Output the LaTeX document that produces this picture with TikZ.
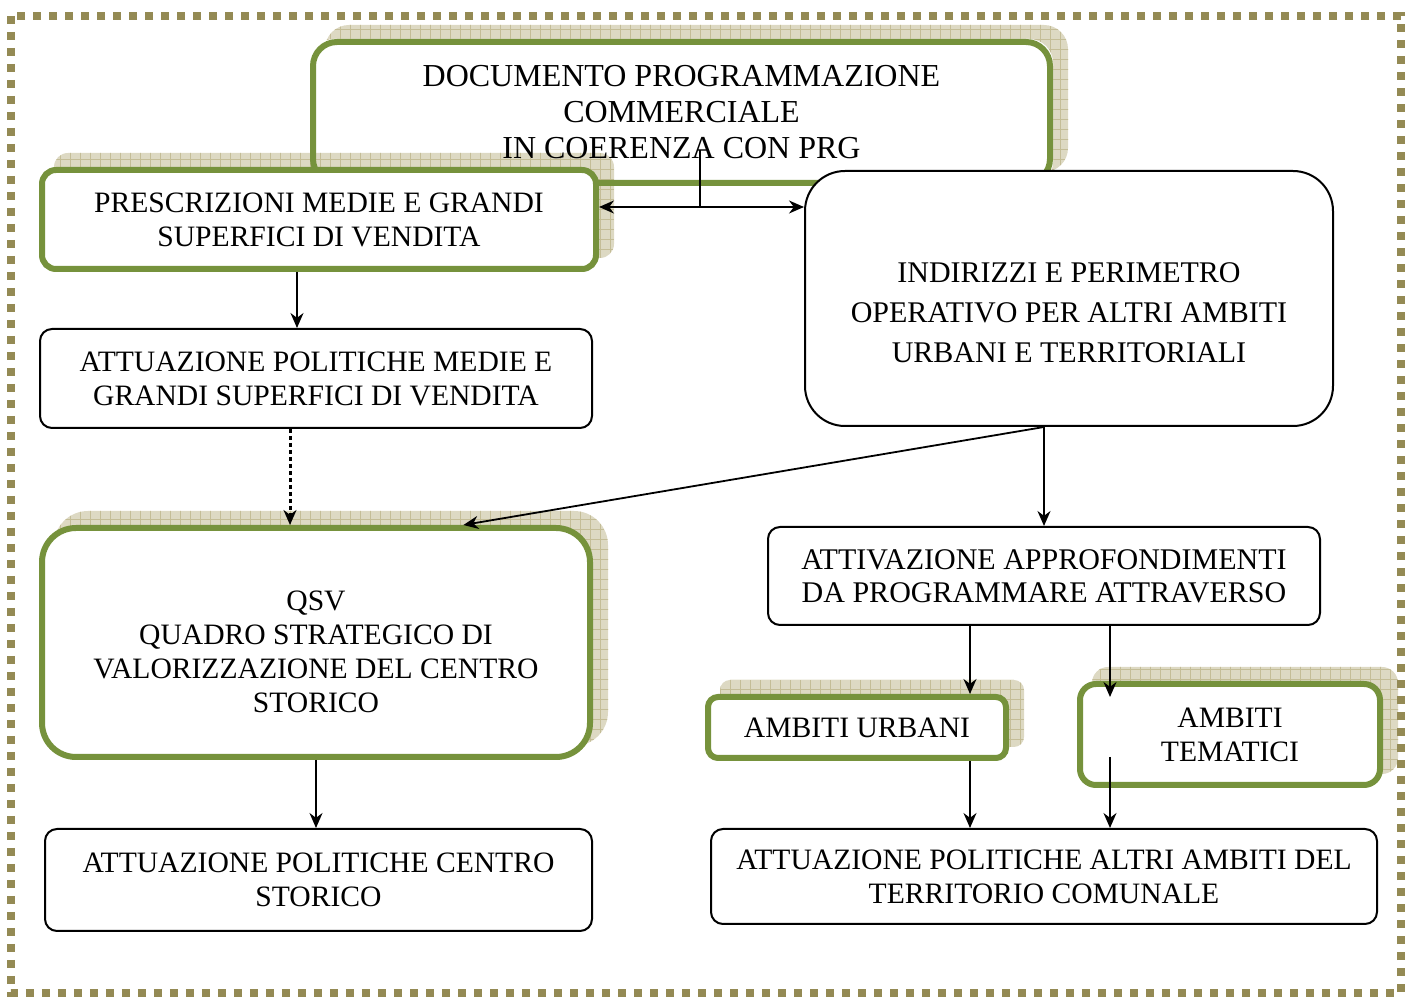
\documentclass[tikz,border=0pt]{standalone}
\usepackage{fontspec}
\setmainfont{Liberation Serif}
\usetikzlibrary{positioning,arrows.meta,calc,backgrounds,patterns.meta}
\definecolor{boxgreen}{HTML}{76923C}
\definecolor{frameolive}{HTML}{948A54}
\definecolor{shadowtan}{HTML}{DDD9C3}
\definecolor{shadowgrid}{HTML}{C4BD97}

\begin{document}
\begin{tikzpicture}[x=0.5pt,y=-0.5pt,>={Stealth[length=7.5pt,width=6.5pt]},
    every node/.style={font=\fontsize{14.8}{17}\selectfont},
    greenbox/.style={draw=boxgreen,line width=3pt,fill=white,align=center,inner sep=2pt},
    plainbox/.style={draw,line width=1pt,fill=white,align=center,inner sep=2pt,rounded corners=6pt},
    shadowtile/.style={preaction={fill=shadowtan},pattern={Hatch[angle=0,distance=5pt,line width=0.4pt]},pattern color=shadowgrid},
    link/.style={->,line width=0.9pt}]
  \useasboundingbox (0,0) rectangle (1405,999);
  \draw[frameolive,line width=4pt,dash pattern=on 4pt off 4pt] (11,16) rectangle (1401,993);

  % left column
  \node[greenbox,fill=none,rounded corners=12pt,minimum width=368.5pt,minimum height=70.5pt,
        font=\fontsize{16}{18}\selectfont] (doc) at (681.5,112.5) {DOCUMENTO PROGRAMMAZIONE\\COMMERCIALE\\IN COERENZA CON PRG};
  \node[greenbox,rounded corners=7pt,minimum width=277pt,minimum height=49.5pt] (presc) at (319,219.5) {PRESCRIZIONI MEDIE E GRANDI\\SUPERFICI DI VENDITA};
  \node[plainbox,minimum width=276pt,minimum height=49.5pt] (attmed) at (316,378.5) {ATTUAZIONE POLITICHE MEDIE E\\GRANDI SUPERFICI DI VENDITA};
  \node[greenbox,rounded corners=17pt,minimum width=274pt,minimum height=114.5pt] (qsv) at (316,642.5) {};
  \node[align=center] (qsvtext) at (316,652) {QSV\\QUADRO STRATEGICO DI\\VALORIZZAZIONE DEL CENTRO\\STORICO};
  \node[plainbox,minimum width=273.5pt,minimum height=51pt] (attcs) at (318.5,880) {ATTUAZIONE POLITICHE CENTRO\\STORICO};

  % right column
  \node[plainbox,rounded corners=20pt,minimum width=264pt,minimum height=127.5pt] (indir) at (1069,298.5) {};
  \node[align=center,font=\fontsize{15}{20}\selectfont] (indirtext) at (1069,312.5) {INDIRIZZI E PERIMETRO\\OPERATIVO PER ALTRI AMBITI\\URBANI E TERRITORIALI};
  \node[plainbox,minimum width=276pt,minimum height=49pt,font=\fontsize{15}{16.5}\selectfont] (attiv) at (1044,576) {ATTIVAZIONE APPROFONDIMENTI\\DA PROGRAMMARE ATTRAVERSO};
  \node[greenbox,rounded corners=5pt,minimum width=149pt,minimum height=30.5pt] (urb) at (857,727.5) {AMBITI URBANI};
  \node[greenbox,rounded corners=8pt,minimum width=150pt,minimum height=50.5pt] (tem) at (1230,734.5) {AMBITI\\TEMATICI};
  \node[plainbox,minimum width=333pt,minimum height=47.5pt] (attalt) at (1044,876.5) {ATTUAZIONE POLITICHE ALTRI AMBITI DEL\\TERRITORIO COMUNALE};

  % shadows
  \begin{scope}[on background layer]
    \path[shadowtile,rounded corners=12pt] ([xshift=7.5pt,yshift=7pt]doc.south west) rectangle ([xshift=7.5pt,yshift=7pt]doc.north east);
    \fill[white,rounded corners=12pt] (doc.south west) rectangle (doc.north east);
    \foreach \n/\r in {presc/7pt,qsv/17pt,urb/5pt,tem/8pt}
      \path[shadowtile,rounded corners=\r] ([xshift=7.5pt,yshift=7pt]\n.south west) rectangle ([xshift=7.5pt,yshift=7pt]\n.north east);
  \end{scope}

  % connectors
  \coordinate (junc) at (700,207);
  \coordinate (junctop) at (700,150);
  \coordinate (pfeed) at ($(presc.south)+(-22,0)$);
  \coordinate (dfeed) at ($(attmed.south)+(-26,0)$);
  \coordinate (qsvin) at ($(qsv.north west)!0.766!(qsv.north east)$);
  \coordinate (urbx) at (970,0);
  \coordinate (temx) at (1110,0);
  \coordinate (temin) at (1110,697);
  \coordinate (temout) at (1110,757);

  \draw[line width=0.9pt] (junc) -- (junctop);
  \draw[link,<->] (junc -| presc.east) -- (junc -| indir.west);
  \draw[link] (pfeed) -- (pfeed |- attmed.north);
  \draw[link,line width=1.5pt,dash pattern=on 2pt off 1.5pt] (dfeed) -- (dfeed |- qsv.north);
  \draw[link] (attiv.north |- indir.south) -- (attiv.north);
  \draw[link] (attiv.north |- indir.south) -- (qsvin);
  \draw[link] (urbx |- attiv.south) -- (urbx |- urb.north);
  \draw[link] (temx |- attiv.south) -- (temin);
  \draw[link] (urbx |- urb.south) -- (urbx |- attalt.north);
  \draw[link] (temout) -- (temx |- attalt.north);
  \draw[link] (qsv.south) -- (qsv.south |- attcs.north);
\end{tikzpicture}
\end{document}
